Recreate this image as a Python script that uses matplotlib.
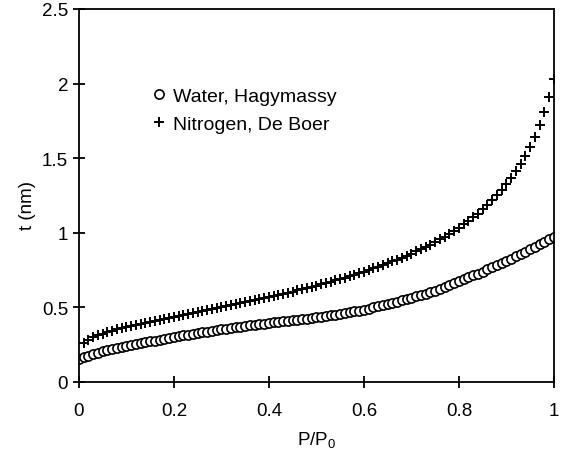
import numpy as np
from matplotlib import pyplot as plt

plt.rcParams['font.family'] = ['Liberation Sans', 'DejaVu Sans']
plt.rcParams['mathtext.fontset'] = 'custom'
plt.rcParams['mathtext.rm'] = 'Liberation Sans'
plt.rcParams['mathtext.it'] = 'Liberation Sans'
plt.rcParams['mathtext.default'] = 'rm'

# relative pressure grid (0.01 steps)
p_water = np.linspace(0, 1, 101)
p_nitrogen = np.linspace(0.01, 1, 100)

# t (nm)
t_water = [
    0.155, 0.166, 0.176, 0.186, 0.196, 0.205, 0.213, 0.220, 0.227, 0.234,
    0.240, 0.247, 0.253, 0.260, 0.266, 0.272, 0.278, 0.284, 0.289, 0.295,
    0.300, 0.306, 0.312, 0.317, 0.323, 0.328, 0.333, 0.338, 0.343, 0.347,
    0.352, 0.357, 0.361, 0.366, 0.371, 0.375, 0.380, 0.384, 0.388, 0.392,
    0.396, 0.400, 0.403, 0.407, 0.410, 0.414, 0.418, 0.421, 0.425, 0.429,
    0.433, 0.437, 0.442, 0.446, 0.451, 0.456, 0.461, 0.467, 0.473, 0.479,
    0.485, 0.492, 0.500, 0.507, 0.515, 0.522, 0.530, 0.539, 0.547, 0.556,
    0.565, 0.574, 0.583, 0.593, 0.602, 0.612, 0.624, 0.636, 0.649, 0.662,
    0.675, 0.688, 0.701, 0.714, 0.727, 0.740, 0.754, 0.768, 0.782, 0.796,
    0.810, 0.826, 0.842, 0.858, 0.874, 0.890, 0.907, 0.924, 0.941, 0.958,
    0.975,
]

t_nitrogen = [
    0.262, 0.284, 0.300, 0.313, 0.324, 0.334, 0.343, 0.352, 0.360, 0.368,
    0.375, 0.383, 0.390, 0.397, 0.404, 0.411, 0.417, 0.424, 0.430, 0.437,
    0.443, 0.450, 0.456, 0.463, 0.469, 0.475, 0.482, 0.488, 0.495, 0.501,
    0.508, 0.514, 0.521, 0.528, 0.534, 0.541, 0.548, 0.555, 0.562, 0.569,
    0.576, 0.584, 0.591, 0.599, 0.606, 0.614, 0.622, 0.630, 0.638, 0.646,
    0.655, 0.663, 0.672, 0.681, 0.690, 0.700, 0.709, 0.719, 0.729, 0.740,
    0.750, 0.761, 0.772, 0.784, 0.795, 0.808, 0.820, 0.833, 0.847, 0.861,
    0.875, 0.890, 0.905, 0.921, 0.938, 0.956, 0.974, 0.993, 1.013, 1.034,
    1.056, 1.079, 1.103, 1.129, 1.157, 1.186, 1.217, 1.250, 1.286, 1.324,
    1.366, 1.412, 1.461, 1.516, 1.576, 1.645, 1.722, 1.808, 1.909, 2.028,
]

x_ticks = [0, 0.2, 0.4, 0.6, 0.8, 1]
x_labels = ['0', '0.2', '0.4', '0.6', '0.8', '1']
y_ticks = [0, 0.5, 1, 1.5, 2, 2.5]
y_labels = ['0', '0.5', '1', '1.5', '2', '2.5']

fig = plt.figure(figsize=(5.63, 4.6), dpi=100)
ax = fig.add_axes([0.1403, 0.1674, 0.8437, 0.8109])

ax.plot(p_water, t_water, linestyle='none', marker='o', markersize=6.6,
        markerfacecolor='white', markeredgecolor='black', markeredgewidth=1.2,
        label='Water, Hagymassy')
ax.plot(p_nitrogen, t_nitrogen, linestyle='none', marker='+', markersize=7.5,
        color='black', markeredgewidth=1.4, label='Nitrogen, De Boer')

ax.set_xlim(0, 1)
ax.set_ylim(0, 2.5)
ax.set_xticks(x_ticks)
ax.set_xticklabels(x_labels)
ax.set_yticks(y_ticks)
ax.set_yticklabels(y_labels)

for s in ax.spines.values():
    s.set_linewidth(1.3)
ax.tick_params(axis='both', direction='inout', length=8.5, width=1.3,
               labelsize=13.5, colors='black')
ax.tick_params(axis='x', pad=10)
ax.tick_params(axis='y', pad=3.6)

ax.set_xlabel('P/P$_0$', fontsize=13.5, labelpad=7)
ax.set_ylabel('t (nm)', fontsize=13.5)
ax.yaxis.set_label_coords(-0.09, 0.477)

ax.legend(loc='center left', bbox_to_anchor=(0.1486, 0.729), frameon=False,
          fontsize=14, numpoints=1, handlelength=1.0, handletextpad=0.18,
          borderpad=0, borderaxespad=0, labelspacing=0.55)

fig.savefig('out.png', dpi=100)
